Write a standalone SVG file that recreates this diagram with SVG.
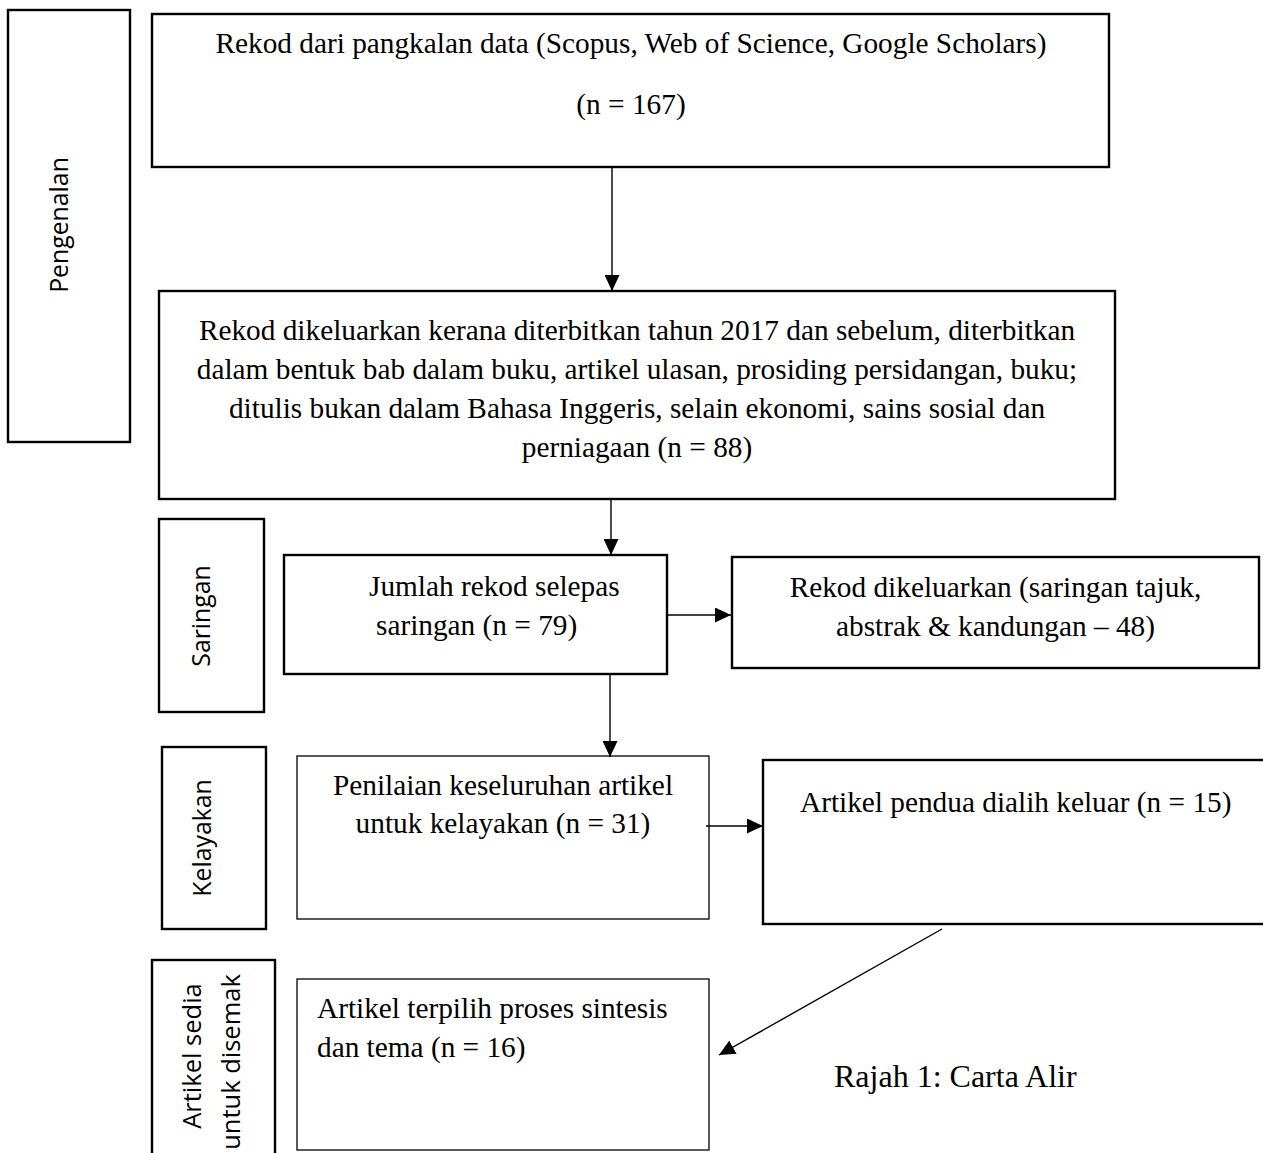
<svg xmlns="http://www.w3.org/2000/svg" width="1263" height="1153" viewBox="0 0 1263 1153">
<style>
.box{fill:#fff;stroke:#000;stroke-width:2.4}
.thin{fill:#fff;stroke:#000;stroke-width:1.3}
.t{font-family:"Liberation Serif","Times New Roman",serif;font-size:29.3px;fill:#000}
.c{text-anchor:middle}
.v{font-family:"Open Sans","Noto Sans",sans-serif;font-size:24.8px;fill:#000;text-anchor:middle}
.cap{font-family:"Liberation Serif","Times New Roman",serif;font-size:32px;fill:#000}
.con line{stroke:#000;stroke-width:1.4;fill:none;marker-end:url(#ah)}
</style>
<defs>
<marker id="ah" markerUnits="userSpaceOnUse" markerWidth="16" markerHeight="15" refX="16" refY="7.5" orient="auto">
<path d="M0,0 L16,7.5 L0,15 Z" fill="#000"/>
</marker>
</defs>
<rect width="1263" height="1153" fill="#fff"/>

<g id="label-pengenalan">
<rect class="box" x="8" y="10" width="122" height="432"/>
<text class="v" transform="translate(68,225) rotate(-90)">Pengenalan</text>
</g>
<g id="label-saringan">
<rect class="box" x="159" y="519" width="105" height="193"/>
<text class="v" transform="translate(210,616) rotate(-90)">Saringan</text>
</g>
<g id="label-kelayakan">
<rect class="box" x="162" y="747" width="104" height="182"/>
<text class="v" transform="translate(211,838) rotate(-90)">Kelayakan</text>
</g>
<g id="label-artikel-sedia">
<rect class="box" x="152" y="960" width="123" height="200"/>
<text class="v" style="font-size:25.5px" transform="translate(201,1056) rotate(-90)">Artikel sedia</text>
<text class="v" style="font-size:25.5px" transform="translate(240,1062) rotate(-90)">untuk disemak</text>
</g>

<g id="n-rekod">
<rect class="box" x="152" y="14" width="957" height="153"/>
<text class="t c" x="631" y="53">Rekod dari pangkalan data (Scopus, Web of Science, Google Scholars)</text>
<text class="t c" x="631" y="114">(n = 167)</text>
</g>
<g id="n-dikeluarkan">
<rect class="box" x="159" y="291" width="956" height="208"/>
<text class="t c" x="637" y="340">Rekod dikeluarkan kerana diterbitkan tahun 2017 dan sebelum, diterbitkan</text>
<text class="t c" x="637" y="379">dalam bentuk bab dalam buku, artikel ulasan, prosiding persidangan, buku;</text>
<text class="t c" x="637" y="418">ditulis bukan dalam Bahasa Inggeris, selain ekonomi, sains sosial dan</text>
<text class="t c" x="637" y="457">perniagaan (n = 88)</text>
</g>
<g id="n-jumlah">
<rect class="box" x="284" y="555" width="383" height="119"/>
<text class="t" x="369" y="596">Jumlah rekod selepas</text>
<text class="t" x="376" y="635">saringan (n = 79)</text>
</g>
<g id="n-saringan-keluar">
<rect class="box" x="732" y="557" width="527" height="111"/>
<text class="t c" x="995.5" y="597">Rekod dikeluarkan (saringan tajuk,</text>
<text class="t c" x="995.5" y="636">abstrak &amp; kandungan – 48)</text>
</g>
<g id="n-penilaian">
<rect class="thin" x="297" y="756" width="412" height="163"/>
<text class="t c" x="503" y="795">Penilaian keseluruhan artikel</text>
<text class="t c" x="503" y="833">untuk kelayakan (n = 31)</text>
</g>
<g id="n-pendua">
<rect class="box" x="763" y="760" width="510" height="164"/>
<text class="t" x="800" y="812">Artikel pendua dialih keluar (n = 15)</text>
</g>
<g id="n-terpilih">
<rect class="thin" x="297" y="979" width="412" height="171"/>
<text class="t" x="317" y="1018">Artikel terpilih proses sintesis</text>
<text class="t" x="317" y="1057">dan tema (n = 16)</text>
</g>

<g id="connectors" class="con">
<line x1="612" y1="168" x2="612" y2="291"/>
<line x1="611" y1="500" x2="611" y2="555"/>
<line x1="668" y1="615" x2="731" y2="615"/>
<line x1="610" y1="675" x2="610" y2="757"/>
<line x1="706" y1="826" x2="763" y2="826"/>
<line x1="942" y1="929" x2="719" y2="1055"/>
</g>

<text id="caption" class="cap" x="834" y="1087">Rajah 1: Carta Alir</text>
</svg>
